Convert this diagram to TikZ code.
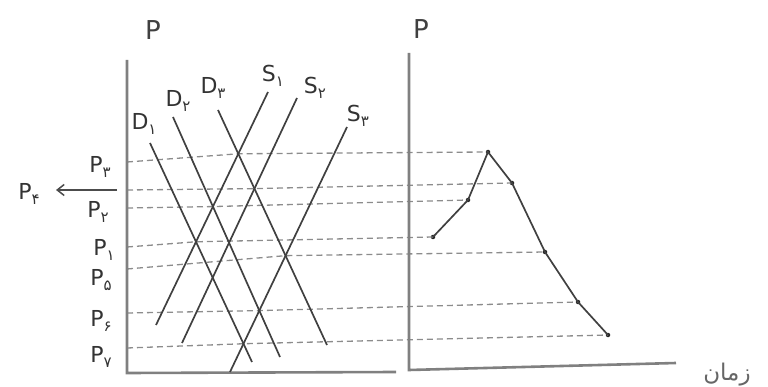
\documentclass[tikz,border=0pt]{standalone}
\usepackage{fontspec}
\setmainfont{DejaVu Sans}
\newfontfamily\arabicfont[Script=Arabic]{DejaVu Sans}
\TeXXeTstate=1
\usetikzlibrary{intersections,arrows.meta}
\newcommand{\lowidx}[1]{\raisebox{-0.45ex}{\fontsize{15}{15}\selectfont\arabicfont #1}}
\begin{document}
\begin{tikzpicture}[x=1pt,y=-1pt,
  axis/.style={draw=black!50, line width=2.6pt},
  curve/.style={draw=black!75, line width=1.7pt},
  guide/.style={draw=black!45, line width=1.3pt, dash pattern=on 6pt off 4pt},
  lbl/.style={text=black!80, font=\fontsize{22}{24}\selectfont, inner sep=0pt},
  axlbl/.style={text=black!75, font=\fontsize{26}{28}\selectfont, inner sep=0pt},
  dot/.style={circle, fill=black!85, inner sep=0pt, minimum size=4.5pt},
  pointer/.style={draw=black!70, line width=1.5pt, -{Straight Barb[length=7pt,width=11pt]}}]
\useasboundingbox (0,0) rectangle (768,387);

% axes
\coordinate (ltop) at (127,60);
\coordinate (lorig) at (127,373);
\coordinate (lend) at (396,372);
\coordinate (rtop) at (409,53);
\coordinate (rorig) at (409,370);
\coordinate (rend) at (676,363);

% demand / supply end points
\coordinate (d1a) at (150,143); \coordinate (d1b) at (252,362);
\coordinate (d2a) at (173,117); \coordinate (d2b) at (280,357);
\coordinate (d3a) at (218,110); \coordinate (d3b) at (327,345);
\coordinate (s1a) at (268,92);  \coordinate (s1b) at (156,325);
\coordinate (s2a) at (297,98);  \coordinate (s2b) at (182,343);
\coordinate (s3a) at (347,127); \coordinate (s3b) at (230,372);

\path[name path=D1] (d1a) -- (d1b);
\path[name path=D2] (d2a) -- (d2b);
\path[name path=D3] (d3a) -- (d3b);
\path[name path=S1] (s1a) -- (s1b);
\path[name path=S2] (s2a) -- (s2b);
\path[name path=S3] (s3a) -- (s3b);

\path[name intersections={of=D1 and S1, by=e1}];
\path[name intersections={of=D2 and S1, by=e2}];
\path[name intersections={of=D3 and S1, by=e3}];
\path[name intersections={of=D3 and S2, by=e4}];
\path[name intersections={of=D3 and S3, by=e5}];
\path[name intersections={of=D2 and S3, by=e6}];
\path[name intersections={of=D1 and S3, by=e7}];

% price levels on the left axis
\coordinate (a3) at (127,162);
\coordinate (a4) at (127,190);
\coordinate (a2) at (127,208);
\coordinate (a1) at (127,247);
\coordinate (a5) at (127,269);
\coordinate (a6) at (127,313);
\coordinate (a7) at (127,348);

% points of the price path
\node[dot] (r1) at (433,237) {};
\node[dot] (r2) at (468,200) {};
\node[dot] (r3) at (488,152) {};
\node[dot] (r4) at (512,183) {};
\node[dot] (r5) at (545,252) {};
\node[dot] (r6) at (578,302) {};
\node[dot] (r7) at (608,335) {};

% dashed guides
\draw[guide] (a3) -- (e3) -- (r3.center);
\draw[guide] (a4) -- (e4) -- (r4.center);
\draw[guide] (a2) -- (e2) -- (r2.center);
\draw[guide] (a1) -- (e1) -- (r1.center);
\draw[guide] (a5) -- (e5) -- (r5.center);
\draw[guide] (a6) -- (e6) -- (r6.center);
\draw[guide] (a7) -- (e7) -- (r7.center);

% axes
\draw[axis] (ltop) -- (lorig) -- (lend);
\draw[axis] (rtop) -- (rorig) -- (rend);

% demand and supply lines
\draw[curve] (d1a) -- (d1b);
\draw[curve] (d2a) -- (d2b);
\draw[curve] (d3a) -- (d3b);
\draw[curve] (s1a) -- (s1b);
\draw[curve] (s2a) -- (s2b);
\draw[curve] (s3a) -- (s3b);

% price path
\draw[curve] (r1.center) -- (r2.center) -- (r3.center) -- (r4.center) -- (r5.center) -- (r6.center) -- (r7.center);

% axis labels
\node[axlbl] (yl) at (153,30) {P};
\node[axlbl] (yr) at (421,29) {P};
\node[text=black!60, font=\fontsize{23}{25}\selectfont\arabicfont, inner sep=0pt] (time) at (727,375) {\beginR زمان\endR};

% line labels
\node[lbl] (ld1) at (144,124) {D\lowidx{۱}};
\node[lbl] (ld2) at (178,101) {D\lowidx{۲}};
\node[lbl] (ld3) at (213,88) {D\lowidx{۳}};
\node[lbl] (ls1) at (273,76) {S\lowidx{۱}};
\node[lbl] (ls2) at (315,88) {S\lowidx{۲}};
\node[lbl] (ls3) at (358,116) {S\lowidx{۳}};

% price labels
\node[lbl] (p3) at (100,167) {P\lowidx{۳}};
\node[lbl] (p2) at (98,212) {P\lowidx{۲}};
\node[lbl] (p1) at (104,250) {P\lowidx{۱}};
\node[lbl] (p5) at (101,280) {P\lowidx{۵}};
\node[lbl] (p6) at (101,321) {P\lowidx{۶}};
\node[lbl] (p7) at (101,357) {P\lowidx{۷}};
\node[lbl] (p4) at (29,194) {P\lowidx{۴}};
\coordinate (arrS) at (117,190);
\coordinate (arrE) at (56,190);
\draw[pointer] (arrS) -- (arrE);
\end{tikzpicture}
\end{document}
